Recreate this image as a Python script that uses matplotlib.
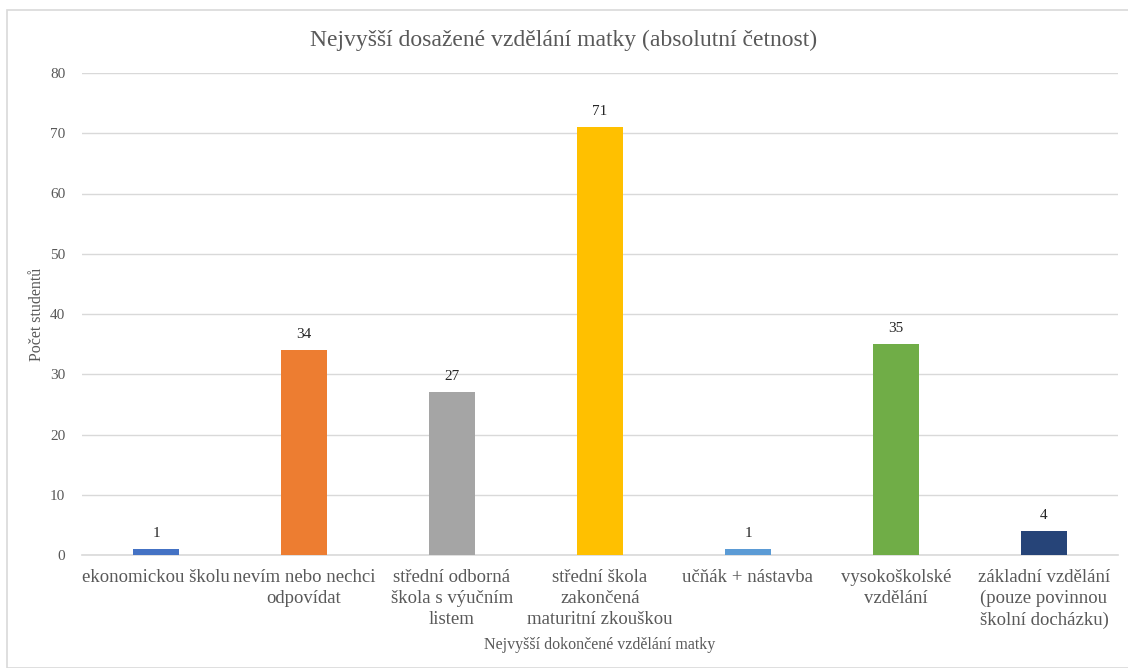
import matplotlib.pyplot as plt
from matplotlib.patches import Rectangle

plt.rcParams['font.family'] = ['Liberation Serif', 'DejaVu Serif']

categories = [
    'ekonomickou školu',
    'nevím nebo nechci\nodpovídat',
    'střední odborná\nškola s výučním\nlistem',
    'střední škola\nzakončená\nmaturitní zkouškou',
    'učňák + nástavba',
    'vysokoškolské\nvzdělání',
    'základní vzdělání\n(pouze povinnou\nškolní docházku)',
]
counts = [1, 34, 27, 71, 1, 35, 4]
colors = ['#4472C4', '#ED7D31', '#A5A5A5', '#FFC000', '#5B9BD5', '#70AD47', '#264478']

fig = plt.figure(figsize=(11.28, 6.68), dpi=100)
fig.patches.append(Rectangle((7 / 1128, 0), 1.0, 1 - 10 / 668, transform=fig.transFigure,
                             fill=False, edgecolor='#d9d9d9', linewidth=1.2))
ax = fig.add_axes([82 / 1128, 1 - 555 / 668, 1036 / 1128, 482 / 668])

x = range(len(categories))
bars = ax.bar(x, counts, width=0.31, color=colors, zorder=3)
for b, v in zip(bars, counts):
    ax.text(b.get_x() + b.get_width() / 2, v + 1.5, str(v), ha='center', va='bottom',
            fontsize=11, color='#262626')

ax.set_xlim(-0.5, len(categories) - 0.5)
ax.set_ylim(0, 80)
ax.set_yticks(range(0, 81, 10))
ax.yaxis.grid(True, color='#d9d9d9', linewidth=1, zorder=0)
ax.set_xticks(list(x))
ax.set_xticklabels(categories, fontsize=13.5, color='#595959', linespacing=1.32,
                   family=['Liberation Serif', 'DejaVu Serif'])
ax.tick_params(axis='x', length=0, pad=10)
ax.tick_params(axis='y', length=0, pad=12, labelsize=11, labelcolor='#595959')
for s in ['top', 'right', 'left']:
    ax.spines[s].set_visible(False)
ax.spines['bottom'].set_color('#d9d9d9')
ax.spines['bottom'].set_linewidth(1.2)

ax.set_xlabel('Nejvyšší dokončené vzdělání matky', fontsize=11.5, color='#595959', labelpad=6)
ax.set_ylabel('Počet studentů', fontsize=11.5, color='#595959', labelpad=4)
fig.text(0.5, 1 - 40 / 668, 'Nejvyšší dosažené vzdělání matky (absolutní četnost)',
         ha='center', va='center', fontsize=17, color='#595959')

fig.savefig('out.png', dpi=100)
